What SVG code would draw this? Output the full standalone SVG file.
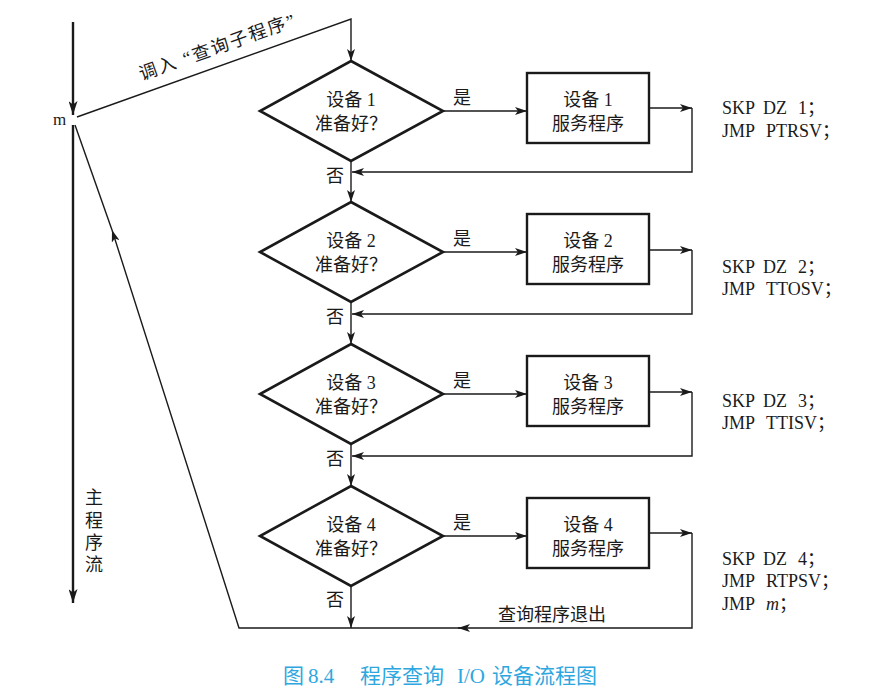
<svg xmlns="http://www.w3.org/2000/svg" width="891" height="699" viewBox="0 0 891 699">
<style>
.t{font-family:"Liberation Serif","Noto Sans CJK SC",serif;fill:#1a1a1a}
.c{font-size:18px;text-anchor:middle}
.code{font-size:18px}
.dia{fill:none;stroke:#1a1a1a;stroke-width:2.6;stroke-linejoin:miter}
.box{fill:none;stroke:#1a1a1a;stroke-width:2.4}
.ln{fill:none;stroke:#1a1a1a;stroke-width:1.4}
.main{fill:none;stroke:#1a1a1a;stroke-width:2.4}
.cap{font-family:"Liberation Serif","Noto Sans CJK SC",serif;font-size:21px;fill:#2ea7e0}
</style>
<defs>
<marker id="ar" viewBox="0 0 12 8" markerWidth="12" markerHeight="8" refX="12" refY="4" orient="auto" markerUnits="userSpaceOnUse"><path d="M0,0 L12,4 L0,8 L3,4 Z" fill="#1a1a1a"/></marker>
<marker id="arb" viewBox="0 0 14 9" markerWidth="14" markerHeight="9" refX="14" refY="4.5" orient="auto" markerUnits="userSpaceOnUse"><path d="M0,0 L14,4.5 L0,9 L3.5,4.5 Z" fill="#1a1a1a"/></marker>
</defs>

<g id="mainflow">
<line class="main" x1="73" y1="22" x2="73" y2="115" marker-end="url(#arb)"/>
<line class="main" x1="73" y1="125" x2="73" y2="603" marker-end="url(#arb)"/>
<text class="t" x="53" y="125" font-size="17">m</text>
<text class="t c" x="94" y="504">主</text>
<text class="t c" x="94" y="527">程</text>
<text class="t c" x="94" y="549">序</text>
<text class="t c" x="94" y="571">流</text>
</g>

<g id="d1"><polygon class="dia" points="351,61 443,111 351,161 260,111"/><text class="t c" x="351" y="106">设备 1</text><text class="t c" x="351" y="130">准备好？</text></g>
<g id="r1"><rect class="box" x="527" y="73" width="122" height="70"/><text class="t c" x="588" y="106">设备 1</text><text class="t c" x="588" y="130">服务程序</text></g>
<g id="s1"><text class="t code" x="722" y="114">SKP<tspan x="763">DZ</tspan><tspan x="798">1；</tspan></text><text class="t code" x="722" y="137">JMP<tspan x="766">PTRSV；</tspan></text></g>

<g id="d2"><polygon class="dia" points="351,202 443,252 351,302 260,252"/><text class="t c" x="351" y="247">设备 2</text><text class="t c" x="351" y="271">准备好？</text></g>
<g id="r2"><rect class="box" x="527" y="214" width="122" height="70"/><text class="t c" x="588" y="247">设备 2</text><text class="t c" x="588" y="271">服务程序</text></g>
<g id="s2"><text class="t code" x="722" y="273">SKP<tspan x="763">DZ</tspan><tspan x="798">2；</tspan></text><text class="t code" x="722" y="295">JMP<tspan x="766">TTOSV；</tspan></text></g>

<g id="d3"><polygon class="dia" points="351,344 443,394 351,444 260,394"/><text class="t c" x="351" y="389">设备 3</text><text class="t c" x="351" y="413">准备好？</text></g>
<g id="r3"><rect class="box" x="527" y="356" width="122" height="70"/><text class="t c" x="588" y="389">设备 3</text><text class="t c" x="588" y="413">服务程序</text></g>
<g id="s3"><text class="t code" x="722" y="407">SKP<tspan x="763">DZ</tspan><tspan x="798">3；</tspan></text><text class="t code" x="722" y="429">JMP<tspan x="766">TTISV；</tspan></text></g>

<g id="d4"><polygon class="dia" points="351,486 443,536 351,586 260,536"/><text class="t c" x="351" y="531">设备 4</text><text class="t c" x="351" y="555">准备好？</text></g>
<g id="r4"><rect class="box" x="527" y="498" width="122" height="70"/><text class="t c" x="588" y="531">设备 4</text><text class="t c" x="588" y="555">服务程序</text></g>
<g id="s4"><text class="t code" x="722" y="565">SKP<tspan x="763">DZ</tspan><tspan x="798">4；</tspan></text><text class="t code" x="722" y="587">JMP<tspan x="766">RTPSV；</tspan></text><text class="t code" x="722" y="610">JMP<tspan x="766" font-style="italic">m</tspan>；</text></g>

<g id="connectors">
<polyline class="ln" points="77,117 351,19 351,61" marker-end="url(#ar)"/>
<line class="ln" x1="443" y1="111" x2="527" y2="111" marker-end="url(#ar)"/>
<line class="ln" x1="649" y1="108" x2="692" y2="108" marker-end="url(#ar)"/>
<polyline class="ln" points="692,108 692,172 352,172" marker-end="url(#ar)"/>
<line class="ln" x1="351" y1="161" x2="351" y2="202" marker-end="url(#ar)"/>

<line class="ln" x1="443" y1="252" x2="527" y2="252" marker-end="url(#ar)"/>
<line class="ln" x1="649" y1="250" x2="692" y2="250" marker-end="url(#ar)"/>
<polyline class="ln" points="692,250 692,314 352,314" marker-end="url(#ar)"/>
<line class="ln" x1="351" y1="302" x2="351" y2="344" marker-end="url(#ar)"/>

<line class="ln" x1="443" y1="394" x2="527" y2="394" marker-end="url(#ar)"/>
<line class="ln" x1="649" y1="392" x2="692" y2="392" marker-end="url(#ar)"/>
<polyline class="ln" points="692,392 692,456 352,456" marker-end="url(#ar)"/>
<line class="ln" x1="351" y1="444" x2="351" y2="486" marker-end="url(#ar)"/>

<line class="ln" x1="443" y1="536" x2="527" y2="536" marker-end="url(#ar)"/>
<line class="ln" x1="649" y1="533" x2="692" y2="533" marker-end="url(#ar)"/>
<line class="ln" x1="351" y1="586" x2="351" y2="628" marker-end="url(#ar)"/>
<polyline class="ln" points="692,533 692,628 458,628" marker-end="url(#ar)"/>
<polyline class="ln" points="460,628 239,628 112,230" marker-end="url(#ar)"/>
<line class="ln" x1="112" y1="230" x2="75" y2="125"/>

<text class="t c" x="462" y="104">是</text>
<text class="t c" x="462" y="245">是</text>
<text class="t c" x="462" y="387">是</text>
<text class="t c" x="462" y="529">是</text>
<text class="t c" x="335" y="182">否</text>
<text class="t c" x="335" y="323">否</text>
<text class="t c" x="335" y="465">否</text>
<text class="t c" x="335" y="606">否</text>
<text class="t" x="498" y="621" font-size="18">查询程序退出</text>
<text class="t c" transform="translate(219,53) rotate(-19.6)" font-size="18" textLength="164" lengthAdjust="spacing">调入 “查询子程序”</text>
</g>

<text class="cap" y="683"><tspan x="283">图</tspan><tspan x="308">8.4</tspan><tspan x="360">程序查询</tspan><tspan x="457">I/O</tspan><tspan x="492">设备流程图</tspan></text>
</svg>
